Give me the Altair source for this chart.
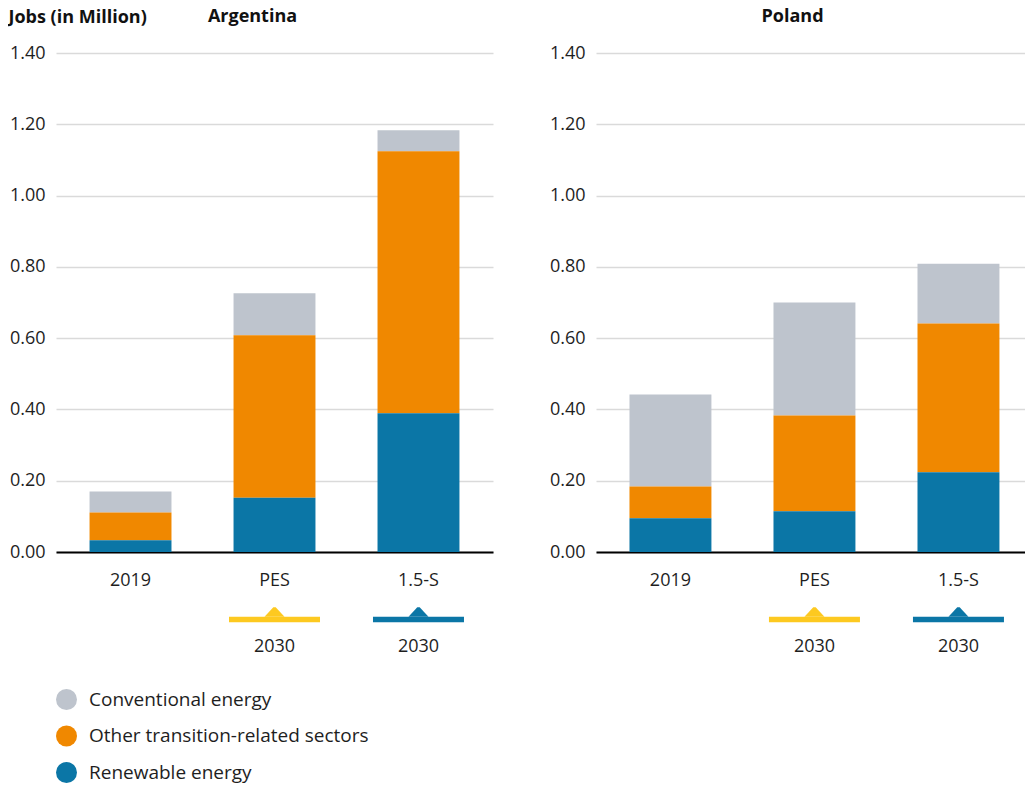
import altair as alt
import pandas as pd

# ---------------- data ----------------
categories = ["2019", "PES", "1.5-S"]
series = ["Conventional energy", "Other transition-related sectors", "Renewable energy"]
series_colors = ["#bec4cd", "#f08800", "#0b76a6"]
stack_rank = [2, 1, 0]  # renewable at the bottom, conventional on top

argentina_renewable = [0.033, 0.152, 0.389]
argentina_other = [0.078, 0.456, 0.735]
argentina_conventional = [0.059, 0.118, 0.059]

poland_renewable = [0.095, 0.114, 0.224]
poland_other = [0.089, 0.269, 0.417]
poland_conventional = [0.258, 0.317, 0.168]

scenario_categories = ["PES", "1.5-S"]
scenario_colors = ["#fdc920", "#0b76a6"]
scenario_year = ["2030", "2030"]

y_ticks = [0.0, 0.2, 0.4, 0.6, 0.8, 1.0, 1.2, 1.4]

FONT = "Open Sans"
TEXT_COLOR = "#1e1e1e"
PLOT_H = 499


def make_frame(ren, oth, conv):
    rows = []
    for i, c in enumerate(categories):
        for s, v, r in zip(series, [conv[i], oth[i], ren[i]], stack_rank):
            rows.append({"category": c, "series": s, "value": v, "rank": r})
    return pd.DataFrame(rows)


marker_df = pd.DataFrame(
    {"category": scenario_categories, "mcolor": scenario_colors, "year": scenario_year}
)


def panel(name, ren, oth, conv, y_title, width, pad_outer, align):
    df = make_frame(ren, oth, conv)
    xscale = alt.Scale(domain=categories, paddingInner=0.431, paddingOuter=pad_outer, align=align)
    xaxis = alt.Axis(
        title=None,
        labelAngle=0,
        ticks=False,
        domain=True,
        domainColor="#000000",
        domainWidth=2,
        labelPadding=19,
        labelFontSize=18,
        labelColor=TEXT_COLOR,
        labelFont=FONT,
        grid=False,
    )
    xenc = alt.X("category:N", sort=categories, scale=xscale, axis=xaxis)
    yaxis = dict(
        values=y_ticks,
        format=".2f",
        domain=False,
        ticks=False,
        grid=True,
        gridColor="#dadada",
        gridWidth=1.6,
        labelPadding=11,
        labelFontSize=18,
        labelColor=TEXT_COLOR,
        labelFont=FONT,
    )
    if y_title:
        yaxis.update(
            title="Jobs (in Million)",
            titleAngle=0,
            titleAlign="left",
            titleBaseline="alphabetic",
            titleX=-48,
            titleY=-30.7,
            titleFontSize=18,
            titleFontWeight="bold",
            titleFont=FONT,
            titleColor="#111111",
        )
    else:
        yaxis.update(title=None)

    bars = (
        alt.Chart(df)
        .mark_bar()
        .encode(
            x=xenc,
            y=alt.Y(
                "value:Q",
                stack="zero",
                scale=alt.Scale(domain=[0, 1.4], nice=False),
                axis=alt.Axis(**yaxis),
            ),
            color=alt.Color(
                "series:N",
                scale=alt.Scale(domain=series, range=series_colors),
                legend=alt.Legend(
                    title=None,
                    orient="none",
                    legendX=0,
                    legendY=636,
                    symbolType="circle",
                    symbolSize=441,
                    symbolStrokeWidth=0,
                    symbolOpacity=1,
                    labelFontSize=19,
                    labelFont=FONT,
                    labelColor=TEXT_COLOR,
                    labelOffset=12,
                    rowPadding=15.5,
                    labelLimit=400,
                ),
            ),
            order=alt.Order("rank:Q", sort="ascending"),
        )
    )

    mline = (
        alt.Chart(marker_df)
        .mark_bar(width=91)
        .encode(
            x=alt.X("category:N", sort=categories, scale=xscale, axis=xaxis),
            y=alt.value(563.7),
            y2=alt.value(569.2),
            fill=alt.Fill("mcolor:N", scale=None),
        )
    )
    mtri = (
        alt.Chart(marker_df)
        .mark_point(
            shape="M -1 0.5 L -0.12 -0.45 L 0.12 -0.45 L 1 0.5 Z",
            filled=True,
            size=400,
            opacity=1,
        )
        .encode(
            x=alt.X("category:N", sort=categories, scale=xscale, axis=xaxis),
            y=alt.value(558.8),
            fill=alt.Fill("mcolor:N", scale=None),
        )
    )
    mtext = (
        alt.Chart(marker_df)
        .mark_text(fontSize=18, font=FONT, color=TEXT_COLOR, baseline="alphabetic")
        .encode(
            x=alt.X("category:N", sort=categories, scale=xscale, axis=xaxis),
            y=alt.value(599),
            text="year:N",
        )
    )
    title = (
        alt.Chart(pd.DataFrame({"panel": [name]}))
        .mark_text(
            fontSize=18,
            font=FONT,
            fontWeight="bold",
            color="#111111",
            baseline="alphabetic",
            align="center",
        )
        .encode(x=alt.value(196.5), y=alt.value(-30.7), text="panel:N")
    )

    return alt.layer(bars, mline, mtri, mtext, title).properties(
        width=width,
        height=PLOT_H,
        view=alt.ViewBackground(stroke="transparent", strokeWidth=0),
    )


left = panel("Argentina", argentina_renewable, argentina_other, argentina_conventional,
             True, 437, 0.233, 0.5)
right = panel("Poland", poland_renewable, poland_other, poland_conventional,
              False, 429, 0.205, 0.567)

chart = (
    alt.hconcat(left, right, spacing=103, bounds="flush")
    .resolve_scale(color="shared")
    .properties(padding={"left": 0, "top": 0, "right": 0, "bottom": 0})
    .configure_view(stroke="transparent", strokeWidth=0)
    .configure(font=FONT)
)

chart.save("out.html", embed_options={"renderer": "svg", "actions": False})
